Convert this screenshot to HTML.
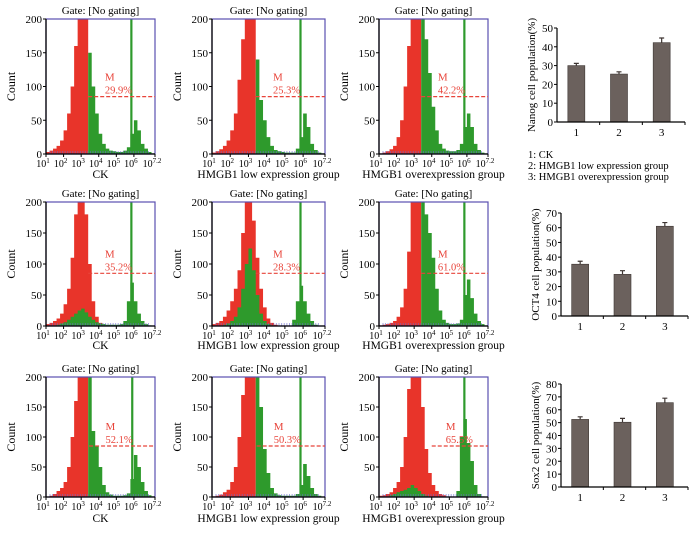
<!DOCTYPE html>
<html><head><meta charset="utf-8"><style>
html,body{margin:0;padding:0;background:#fff;}
svg{display:block;font-family:"Liberation Serif",serif;}
</style></head><body>
<svg id="fig" width="700" height="537" viewBox="0 0 700 537" xmlns="http://www.w3.org/2000/svg"></svg>
<script>
// ---- Histogram data (bins of 0.2 decade from 10^1 to 10^7.2) ----
const xTickExp = [1,2,3,4,5,6,7.2];
const yTicks = [0,50,100,150,200];
const captions = ["CK","HMGB1 low expression group","HMGB1 overexpression group"];
const percents = ["29.9%","25.3%","42.2%","35.2%","28.3%","61.0%","52.1%","50.3%","65.5%"];
const gates = [3.4,3.4,3.4,3.4,3.4,3.4,3.45,3.45,4.0];
const spikes = [5.85,5.85,5.85,5.85,5.85,5.85,5.9,5.85,5.85];
const red = [
 [3,5,8,12,20,35,60,100,160,220,220,215,0,0,0,0,0,0,0,0,0,0,0,0,0,0,0,0,0,0,0],
 [2,4,7,12,20,35,60,110,170,220,220,215,0,0,0,0,0,0,0,0,0,0,0,0,0,0,0,0,0,0,0],
 [1,2,4,7,12,25,50,100,160,220,220,220,0,0,0,0,0,0,0,0,0,0,0,0,0,0,0,0,0,0,0],
 [3,5,8,12,20,35,60,110,180,220,220,180,100,40,15,5,2,0,0,0,0,0,0,0,0,0,0,0,0,0,0],
 [3,5,8,15,25,40,60,90,150,220,220,170,110,60,30,12,5,2,0,0,0,0,0,0,0,0,0,0,0,0,0],
 [1,2,3,5,8,15,30,60,120,200,220,220,0,0,0,0,0,0,0,0,0,0,0,0,0,0,0,0,0,0,0],
 [0,2,5,10,15,25,50,100,160,220,220,220,0,0,0,0,0,0,0,0,0,0,0,0,0,0,0,0,0,0,0],
 [1,2,4,8,12,25,50,100,170,220,220,220,0,0,0,0,0,0,0,0,0,0,0,0,0,0,0,0,0,0,0],
 [2,3,5,8,15,25,50,100,180,220,220,220,150,80,40,20,10,5,3,0,0,0,0,0,0,0,0,0,0,0,0]
];
const green = [
 [0,0,0,0,0,0,0,0,0,0,0,0,150,100,60,30,15,8,5,4,3,3,5,10,30,50,35,15,8,3,1],
 [0,0,0,0,0,0,0,0,0,0,0,0,140,80,50,25,12,6,4,3,2,2,2,8,25,60,40,15,6,2,1],
 [0,0,0,0,0,0,0,0,0,0,0,0,200,170,120,70,35,15,8,5,4,4,6,15,40,60,40,15,6,2,1],
 [0,0,0,2,4,6,10,15,20,25,28,22,15,10,6,4,3,2,2,2,2,3,8,40,70,40,20,8,3,1,0],
 [0,0,0,2,4,8,15,30,60,100,125,90,50,20,8,3,1,0,0,0,0,0,10,40,65,40,20,8,2,0,0],
 [0,0,0,0,0,0,0,0,0,0,0,0,220,180,150,110,60,25,10,5,3,3,4,10,50,75,45,20,8,3,1],
 [0,0,0,0,0,0,0,0,0,0,0,0,200,110,85,50,20,8,4,2,2,2,3,6,30,70,50,25,10,3,1],
 [0,0,0,0,0,0,0,0,0,0,0,0,200,150,80,40,15,6,3,2,2,2,2,5,20,55,35,15,5,2,0],
 [0,0,0,3,5,8,10,12,15,20,15,10,5,2,0,0,0,0,0,0,0,0,10,100,130,90,60,20,5,1,0]
];
// ---- Bar chart data ----
const barCats = ["1","2","3"];
const nanog = [30,25.5,42.2];
const nanogErr = [1.2,1.2,2.5];
const oct4 = [35.2,28.3,61];
const oct4Err = [2,2.5,2.5];
const sox2 = [52.5,50.3,65.5];
const sox2Err = [2,3,3.5];
const barTicks = [[0,10,20,30,40,50],[0,10,20,30,40,50,60,70],[0,10,20,30,40,50,60,70,80]];
const barTitles = ["Nanog cell population(%)","OCT4 cell population(%)","Sox2 cell population(%)"];
const legendLines = ["1: CK","2: HMGB1 low expression group","3: HMGB1 overexpression group"];

const NS="http://www.w3.org/2000/svg";
const svg=document.getElementById('fig');
function mk(tag,attrs,parent){const e=document.createElementNS(NS,tag);for(const k in attrs)e.setAttribute(k,attrs[k]);(parent||svg).appendChild(e);return e;}
function txt(s,attrs,parent){const e=mk('text',attrs,parent);e.textContent=s;return e;}

const cols=[[46,155],[212,325],[379,488]];
const rows=[[19,154],[202,326],[377,497]];
const captionY=[178,349,522];

for(let r=0;r<3;r++)for(let c=0;c<3;c++){
  const k=r*3+c,[x0,x1]=cols[c],[y0,y1]=rows[r];
  const g=mk('g',{});
  
  
  const sx=v=>x0+(v-1)/(7.2-1)*(x1-x0);
  const sy=v=>y1-Math.min(v,200)/200*(y1-y0);
  function area(arr,color,name){
    let d='M'+sx(1)+','+y1;
    for(let i=0;i<arr.length;i++){const a=1+0.2*i,b=Math.min(a+0.2,7.2);d+=' L'+sx(a)+','+sy(arr[i])+' L'+sx(b)+','+sy(arr[i]);}
    d+=' L'+sx(7.2)+','+y1+' Z';
    const p=mk('path',{d:d,fill:color,stroke:'none'},g);
    
    
  }
  area(red[k],'#e8342a','red-histogram');
  area(green[k],'#2e9a2c','green-histogram');
  const sp=mk('rect',{x:sx(spikes[k])-1,y:y0,width:2.2,height:y1-y0,fill:'#2e9a2c'},g);
  
  
  for(let t=0;t<40;t++){mk('line',{x1:x0+4+t*(x1-x0-8)/40,x2:x0+4+t*(x1-x0-8)/40,y1:y1-3,y2:y1,stroke:'#6a6ad0','stroke-width':1,opacity:0.6},g);}
  const bx=mk('rect',{x:x0,y:y0,width:x1-x0,height:y1-y0,fill:'none',stroke:'#5a4fb0','stroke-width':1.2},g);
  
  
  mk('line',{x1:x0,x2:x0,y1:y0,y2:y1,stroke:'#000','stroke-width':1.3},g);
  mk('line',{x1:x0,x2:x1,y1:y1,y2:y1,stroke:'#000','stroke-width':1.3},g);
  yTicks.forEach(v=>{mk('line',{x1:x0-3,x2:x0,y1:sy(v),y2:sy(v),stroke:'#000'},g);
    const t=txt(String(v),{x:x0-4,y:sy(v)+4,'font-size':11,'text-anchor':'end'},g);
    });
  xTickExp.forEach(v=>{mk('line',{x1:sx(v),x2:sx(v),y1:y1,y2:y1+3,stroke:'#000'},g);
    const t=txt('',{x:sx(v)-3,y:y1+13,'font-size':10,'text-anchor':'middle'},g);
    
    const a=mk('tspan',{},t);a.textContent='10';const b=mk('tspan',{'font-size':7,dy:-4});b.textContent=String(v);t.appendChild(b);});
  const gt=txt('Gate: [No gating]',{x:(x0+x1)/2,y:y0-5,'font-size':11,'text-anchor':'middle'},g);
  
  const yl=txt('Count',{x:0,y:0,'font-size':12,'text-anchor':'middle',transform:`translate(${x0-31},${(y0+y1)/2}) rotate(-90)`},g);
  
  const cp=txt(captions[c],{x:(x0+x1)/2,y:captionY[r],'font-size':11.5,'text-anchor':'middle'},g);
  
  const my=sy(85);
  const ml=mk('line',{x1:sx(gates[k]),x2:x1,y1:my,y2:my,stroke:'#e8443a','stroke-width':1.2,'stroke-dasharray':'4,2'},g);
  
  const mx=sx(gates[k])+ (x1-sx(gates[k]))*0.25;
  const m=txt('M',{x:mx,y:my-16,'font-size':11,fill:'#e8443a'},g);
  
  const pc=txt(percents[k],{x:mx,y:my-3,'font-size':10.5,fill:'#e8443a'},g);
  
}

const bcfg=[{ax:557,x1:685,top:28,bot:122,vals:nanog,err:nanogErr},
            {ax:561,x1:688,top:213,bot:316,vals:oct4,err:oct4Err},
            {ax:561,x1:688,top:384,bot:487,vals:sox2,err:sox2Err}];
bcfg.forEach((cfg,j)=>{
  const g=mk('g',{});
  
  
  const ticks=barTicks[j],max=ticks[ticks.length-1];
  const sy=v=>cfg.bot-v/max*(cfg.bot-cfg.top);
  const step=(cfg.x1-cfg.ax)/3;
  const cx=i=>cfg.ax+step*(i+0.5)-2;
  cfg.vals.forEach((v,i)=>{
    const b=mk('rect',{x:cx(i)-8.5,y:sy(v),width:17,height:cfg.bot-sy(v),fill:'#6b615d',stroke:'#3d3532','stroke-width':0.6},g);
    
    const e=mk('path',{d:`M${cx(i)},${sy(v)} V${sy(v+cfg.err[i])} M${cx(i)-2.5},${sy(v+cfg.err[i])} H${cx(i)+2.5}`,stroke:'#3d3532','stroke-width':1.2,fill:'none'},g);
    
    const t=txt(barCats[i],{x:cx(i),y:cfg.bot+14,'font-size':11,'text-anchor':'middle'},g);
    
  });
  mk('line',{x1:cfg.ax,x2:cfg.ax,y1:cfg.top,y2:cfg.bot,stroke:'#000','stroke-width':1.2},g);
  mk('line',{x1:cfg.ax,x2:cfg.x1,y1:cfg.bot,y2:cfg.bot,stroke:'#000','stroke-width':1.2},g);
  for(let i=1;i<=3;i++){const x=cfg.ax+step*i;mk('line',{x1:x,x2:x,y1:cfg.bot,y2:cfg.bot+3,stroke:'#000'},g);}
  ticks.forEach(v=>{mk('line',{x1:cfg.ax-3,x2:cfg.ax,y1:sy(v),y2:sy(v),stroke:'#000'},g);
    const t=txt(String(v),{x:cfg.ax-4,y:sy(v)+4,'font-size':11,'text-anchor':'end'},g);
    });
  const yt=txt(barTitles[j],{x:0,y:0,'font-size':11,'text-anchor':'middle',transform:`translate(${cfg.ax-22},${(cfg.top+cfg.bot)/2}) rotate(-90)`},g);
  
});
legendLines.forEach((s,i)=>{
  const t=txt(s,{x:528,y:158+i*11,'font-size':10.5});
  
  
});
</script>
</body></html>
